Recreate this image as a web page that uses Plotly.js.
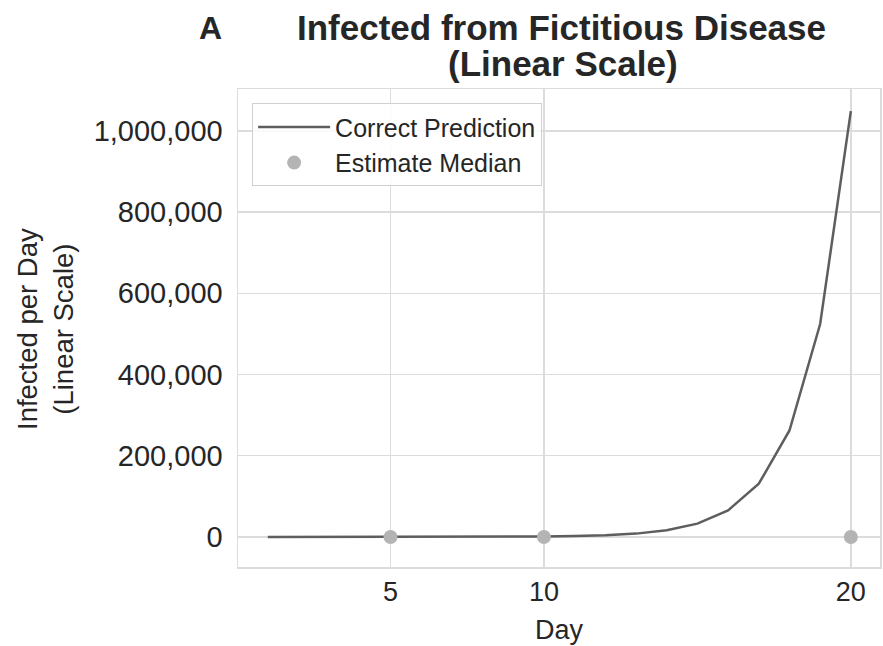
<!DOCTYPE html>
<html><head><meta charset="utf-8">
<script src="https://cdn.plot.ly/plotly-3.0.1.min.js"></script>
<style>html,body{margin:0;padding:0;background:#fff;}#chart{width:883px;height:646px;}</style>
</head><body><div id="chart"></div>
<script>
const days = [1,2,3,4,5,6,7,8,9,10,11,12,13,14,15,16,17,18,19,20];
const infected = [2,4,8,16,32,64,128,256,512,1024,2048,4096,8192,16384,32768,65536,131072,262144,524288,1048576];
const estDays = [5,10,20];
const estMedian = [5,10,20];
const xTicks = [5,10,20];
const yTicks = [0,200000,400000,600000,800000,1000000];
const yTickText = ["0","200,000","400,000","600,000","800,000","1,000,000"];

const font = "Liberation Sans, Arial, sans-serif";
const ink = "#262626";
const data = [
  {x: days, y: infected, type: "scatter", mode: "lines", name: "Correct Prediction",
   line: {color: "#5e5e5e", width: 2.5}},
  {x: estDays, y: estMedian, type: "scatter", mode: "markers", name: "Estimate Median",
   marker: {color: "#b4b4b4", size: 14}}
];
const layout = {
  width: 883, height: 646,
  margin: {l: 238, r: 3, t: 89, b: 79},
  paper_bgcolor: "#fff", plot_bgcolor: "#fff",
  font: {family: font, color: ink},
  xaxis: {range: [0.03, 20.95], tickvals: xTicks, ticktext: xTicks.map(String),
    tickfont: {size: 27}, showgrid: true, gridcolor: "#dcdcdc", gridwidth: 1.5,
    zeroline: false, showline: true, linecolor: "#dcdcdc", linewidth: 1.5, mirror: true,
    ticks: "", ticklen: 0,
    title: {text: "Day", font: {size: 27}, standoff: 14}},
  yaxis: {range: [-74000, 1103000], tickvals: yTicks, ticktext: yTickText,
    tickfont: {size: 29}, showgrid: true, gridcolor: "#dcdcdc", gridwidth: 1.5,
    zeroline: false, showline: true, linecolor: "#dcdcdc", linewidth: 1.5, mirror: true,
    ticks: "", ticklen: 0, ticklabelstandoff: 8},
  legend: {x: 0.022, y: 0.97, xanchor: "left", yanchor: "top",
    bgcolor: "rgba(255,255,255,0.85)", bordercolor: "#d0d0d0", borderwidth: 1,
    font: {size: 25, color: ink}, itemwidth: 72, tracegroupgap: 0},
  showlegend: true,
  annotations: [
    {text: "<b>A</b>", xref: "paper", yref: "paper", x: (210-238)/642, y: (567-28)/478,
     xanchor: "center", yanchor: "middle", showarrow: false, font: {size: 32, color: ink}},
    {text: "<b>Infected from Fictitious Disease</b>", xref: "paper", yref: "paper",
     x: (561-238)/642, y: (567-27)/478, xanchor: "center", yanchor: "middle", showarrow: false,
     font: {size: 35, color: ink}},
    {text: "<b>(Linear Scale)</b>", xref: "paper", yref: "paper",
     x: (563-238)/642, y: (567-64)/478, xanchor: "center", yanchor: "middle", showarrow: false,
     font: {size: 35, color: ink}},
    {text: "Infected per Day<br>(Linear Scale)", xref: "paper", yref: "paper",
     x: (45-238)/642, y: (567-329)/478, xanchor: "center", yanchor: "middle", showarrow: false,
     textangle: -90, font: {size: 27.5, color: ink}}
  ]
};
Plotly.newPlot("chart", data, layout, {displayModeBar: false, staticPlot: true});
</script></body></html>
